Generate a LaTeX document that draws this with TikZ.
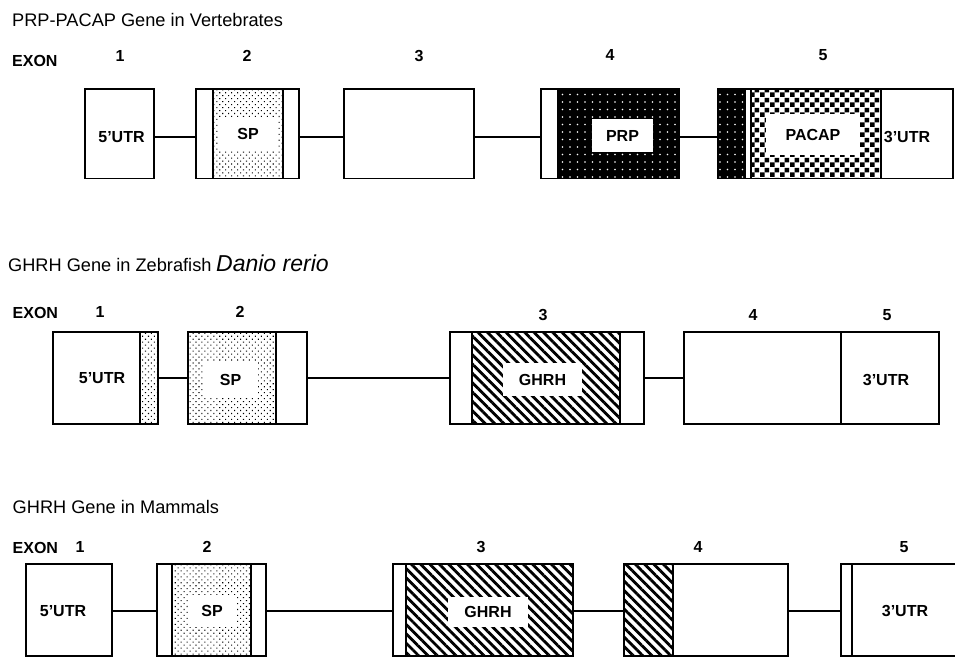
\documentclass[tikz,border=0pt]{standalone}
\usepackage{fontspec}
\setmainfont{Liberation Sans}
\usetikzlibrary{patterns,patterns.meta,fit}

\tikzdeclarepattern{
  name=checker, type=uncolored,
  bounding box={(0pt,0pt) and (10pt,10pt)},
  tile size={(10pt,10pt)},
  code={\fill (0pt,0pt) rectangle (5pt,5pt); \fill (5pt,5pt) rectangle (10pt,10pt);}
}

\tikzset{
  ttl/.style={anchor=base west, inner sep=0pt, font=\fontsize{18.2}{21}\selectfont},
  num/.style={anchor=base, inner sep=0pt, font=\fontsize{16}{19}\selectfont\bfseries},
  txt/.style={inner sep=0pt, font=\fontsize{16}{19}\selectfont\bfseries},
  exon/.style={draw, line width=1.4pt, inner sep=0pt, outer sep=0pt},
  tag/.style={fill=white, inner sep=0pt, outer sep=0pt, font=\fontsize{16}{19}\selectfont\bfseries},
  conn/.style={line width=1.2pt},
  edge/.style={line width=1.4pt},
  stip/.style={pattern={Dots[distance=4.2pt, radius=0.75pt, angle=45]}},
  wdots/.style={pattern={Dots[distance=7.5pt, radius=0.85pt]}, pattern color=white},
  hatch/.style={pattern={Lines[angle=-45, distance=6.6pt, line width=2.8pt]}},
  checks/.style={pattern=checker}
}

\begin{document}
\begin{tikzpicture}[x=1pt, y=-1pt]
\useasboundingbox (0,0) rectangle (955,657);
\clip (0,0) rectangle (955,657);

% ---------------- Row 1: PRP-PACAP ----------------
\node[ttl] (t1) at (12,26) {PRP-PACAP Gene in Vertebrates};
\node[num, anchor=base west] (x1) at (12,66) {EXON};
\node[num] (n11) at (120,61) {1};
\node[num] (n12) at (247,61) {2};
\node[num] (n13) at (419,61) {3};
\node[num] (n14) at (610,60) {4};
\node[num] (n15) at (823,60) {5};
\coordinate (r1) at (0,137);

% patterned regions
\draw[edge, stip] (213,89) rectangle (283,178.5);
\fill[black] (558,89) rectangle (679,178.5);
\fill[wdots] (558,89) rectangle (679,178.5);
\fill[black] (718,89) rectangle (745,178.5);
\fill[wdots] (718,89) rectangle (745,178.5);
\draw[edge, checks] (751,89) rectangle (881,178.5);
\draw[edge] (745,89) -- (745,178.5);

\node[tag, minimum width=58pt, minimum height=33pt] (sp1) at (248,133.5) {SP};
\node[tag, minimum width=61pt, minimum height=33pt] (prp) at (622.5,135.5) {PRP};
\node[tag, minimum width=94pt, minimum height=41pt] (pacap) at (813,134.5) {PACAP};

\node[exon, fit={(85,89) (154,178.5)}] (a1) {};
\node[exon, fit={(196,89) (299,178.5)}] (a2) {};
\node[exon, fit={(344,89) (474,178.5)}] (a3) {};
\node[exon, fit={(541,89) (679,178.5)}] (a4) {};
\node[exon, fit={(718,89) (953,178.5)}] (a5) {};
\draw[edge] (558,89) -- (558,178.5);

\node[txt] (u51) at (121.5,137) {5'UTR};
\node[txt] (u31) at (907,137) {3'UTR};

\draw[conn] (a1.east |- r1) -- (a2.west |- r1);
\draw[conn] (a2.east |- r1) -- (a3.west |- r1);
\draw[conn] (a3.east |- r1) -- (a4.west |- r1);
\draw[conn] (a4.east |- r1) -- (a5.west |- r1);

% ---------------- Row 2: Zebrafish ----------------
\node[ttl] (t2) at (8,271) {GHRH Gene in Zebrafish};
\node[ttl, font=\fontsize{23}{27}\selectfont\itshape] (t2b) at (216,271) {Danio rerio};
\node[num, anchor=base west] (x2) at (12.5,318) {EXON};
\node[num] (n21) at (100,317) {1};
\node[num] (n22) at (240,317) {2};
\node[num] (n23) at (543,320) {3};
\node[num] (n24) at (753,320) {4};
\node[num] (n25) at (887,320) {5};
\coordinate (r2) at (0,378);

\draw[edge, stip] (140,332) rectangle (158,424);
\draw[edge, stip] (188,332) rectangle (276,424);
\draw[edge, hatch] (472,332) rectangle (620,424);

\node[tag, minimum width=55pt, minimum height=35pt] (sp2) at (230.5,379.5) {SP};
\node[tag, minimum width=79pt, minimum height=33pt] (gh2) at (542.5,379.5) {GHRH};

\node[exon, fit={(53,332) (158,424)}] (b1) {};
\node[exon, fit={(188,332) (307,424)}] (b2) {};
\node[exon, fit={(450,332) (644,424)}] (b3) {};
\node[exon, fit={(684,332) (939,424)}] (b4) {};
\draw[edge] (841,332) -- (841,424);

\node[txt] (u52) at (102,378) {5'UTR};
\node[txt] (u32) at (886,380) {3'UTR};

\draw[conn] (b1.east |- r2) -- (b2.west |- r2);
\draw[conn] (b2.east |- r2) -- (b3.west |- r2);
\draw[conn] (b3.east |- r2) -- (b4.west |- r2);

% ---------------- Row 3: Mammals ----------------
\node[ttl] (t3) at (12.5,513) {GHRH Gene in Mammals};
\node[num, anchor=base west] (x3) at (12.5,553) {EXON};
\node[num] (n31) at (80,552) {1};
\node[num] (n32) at (207,552) {2};
\node[num] (n33) at (481,552) {3};
\node[num] (n34) at (698,552) {4};
\node[num] (n35) at (904,552) {5};
\coordinate (r3) at (0,611);

\draw[edge, stip] (172,564) rectangle (251,656);
\draw[edge, hatch] (406,564) rectangle (573,656);
\draw[edge, hatch] (624,564) rectangle (673,656);

\node[tag, minimum width=48pt, minimum height=32pt] (sp3) at (212,611) {SP};
\node[tag, minimum width=80pt, minimum height=30pt] (gh3) at (488,612) {GHRH};

\node[exon, fit={(26,564) (112,656)}] (c1) {};
\node[exon, fit={(157,564) (266,656)}] (c2) {};
\node[exon, fit={(393,564) (573,656)}] (c3) {};
\node[exon, fit={(624,564) (788,656)}] (c4) {};
\node[exon, fit={(841,564) (975,656)}] (c5) {};
\draw[edge] (852,564) -- (852,656);

\node[txt] (u53) at (63,611) {5'UTR};
\node[txt] (u33) at (905,611) {3'UTR};

\draw[conn] (c1.east |- r3) -- (c2.west |- r3);
\draw[conn] (c2.east |- r3) -- (c3.west |- r3);
\draw[conn] (c3.east |- r3) -- (c4.west |- r3);
\draw[conn] (c4.east |- r3) -- (c5.west |- r3);
\end{tikzpicture}
\end{document}
